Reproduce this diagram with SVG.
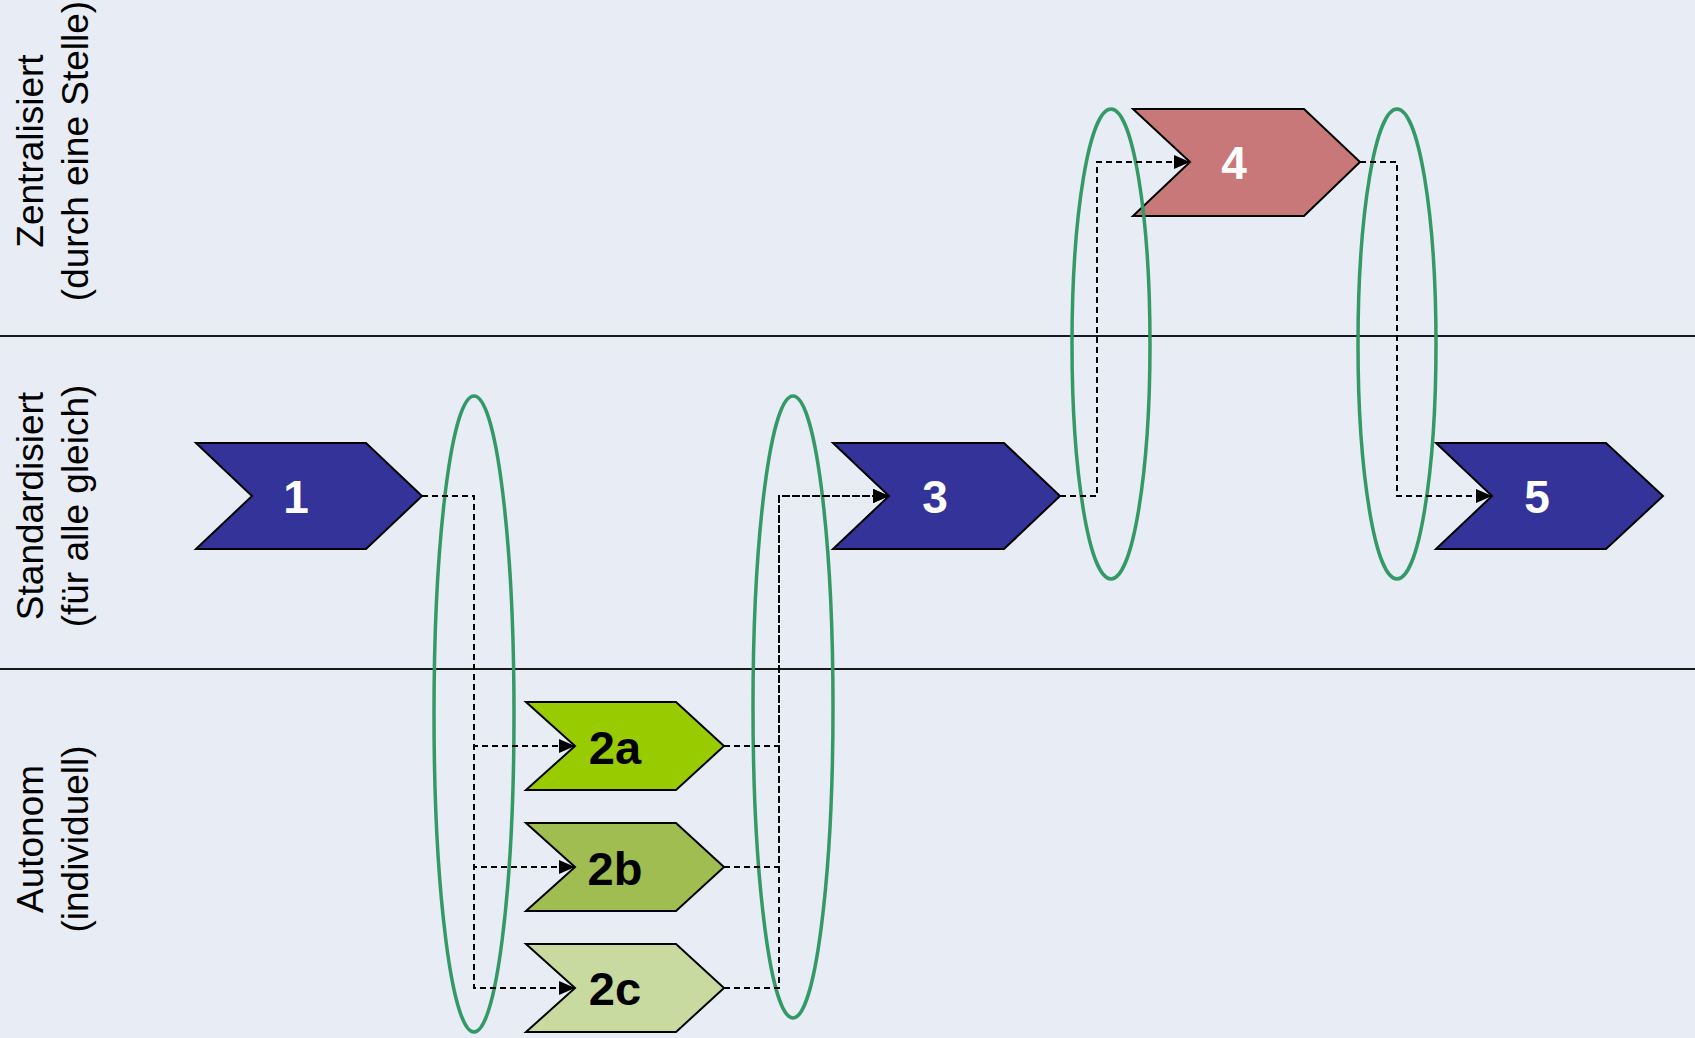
<svg xmlns="http://www.w3.org/2000/svg" width="1695" height="1038" viewBox="0 0 1695 1038">
  <style>
    .lane-label { font-family: "Liberation Sans", Arial, sans-serif; font-size: 37px; fill: #000; text-anchor: middle; }
    .lane-line { stroke: #1a1a1a; stroke-width: 2; }
    .chevron { stroke: #000; stroke-width: 2; stroke-linejoin: miter; }
    .std { fill: #333399; }
    .central { fill: #c87878; }
    .auto-a { fill: #99cc00; }
    .auto-b { fill: #9fbd50; }
    .auto-c { fill: #c8da9f; }
    .label-light { font-family: "Liberation Sans", Arial, sans-serif; font-weight: bold; font-size: 46px; fill: #fff; text-anchor: middle; }
    .label-dark { font-family: "Liberation Sans", Arial, sans-serif; font-weight: bold; font-size: 47px; fill: #000; text-anchor: middle; }
    .group-ring { fill: none; stroke: #339966; stroke-width: 3.5; }
    .flow { fill: none; stroke: #000; stroke-width: 2; stroke-dasharray: 6 4; }
  </style>
  <defs>
    <marker id="arrow" markerUnits="userSpaceOnUse" markerWidth="16" markerHeight="14" viewBox="0 0 16 14" refX="16" refY="7" orient="auto">
      <path d="M0,0 L16,7 L0,14 Z" fill="#000"/>
    </marker>
  </defs>

  <!-- background -->
  <rect x="0" y="0" width="1695" height="1038" fill="#e8ecf4"/>

  <!-- swim lanes -->
  <g id="lanes">
    <line class="lane-line" x1="0" y1="336" x2="1695" y2="336"/>
    <line class="lane-line" x1="0" y1="669" x2="1695" y2="669"/>
    <text class="lane-label" transform="translate(43,151) rotate(-90)">Zentralisiert</text>
    <text class="lane-label" transform="translate(88,151) rotate(-90)">(durch eine Stelle)</text>
    <text class="lane-label" transform="translate(43,506) rotate(-90)">Standardisiert</text>
    <text class="lane-label" transform="translate(88,506) rotate(-90)">(für alle gleich)</text>
    <text class="lane-label" transform="translate(43,839) rotate(-90)">Autonom</text>
    <text class="lane-label" transform="translate(88,839) rotate(-90)">(individuell)</text>
  </g>

  <!-- process steps -->
  <g id="step-1">
    <path class="chevron std" d="M196,443 L366,443 L422,496 L366,549 L196,549 L252,496 Z"/>
    <text class="label-light" x="296" y="513">1</text>
  </g>
  <g id="step-2a">
    <path class="chevron auto-a" d="M526,702 L676,702 L724,746 L676,790 L526,790 L575,746 Z"/>
    <text class="label-dark" x="615" y="764">2a</text>
  </g>
  <g id="step-2b">
    <path class="chevron auto-b" d="M526,823 L676,823 L724,867 L676,911 L526,911 L575,867 Z"/>
    <text class="label-dark" x="615" y="885">2b</text>
  </g>
  <g id="step-2c">
    <path class="chevron auto-c" d="M526,944 L676,944 L724,988 L676,1032 L526,1032 L575,988 Z"/>
    <text class="label-dark" x="615" y="1005">2c</text>
  </g>
  <g id="step-3">
    <path class="chevron std" d="M833,443 L1004,443 L1060,496 L1004,549 L833,549 L889,496 Z"/>
    <text class="label-light" x="935" y="513">3</text>
  </g>
  <g id="step-4">
    <path class="chevron central" d="M1133,109 L1304,109 L1360,162 L1304,216 L1133,216 L1190,162 Z"/>
    <text class="label-light" x="1234" y="179">4</text>
  </g>
  <g id="step-5">
    <path class="chevron std" d="M1436,443 L1606,443 L1663,496 L1606,549 L1436,549 L1492,496 Z"/>
    <text class="label-light" x="1537" y="513">5</text>
  </g>

  <!-- transition rings -->
  <g id="rings">
    <ellipse class="group-ring" cx="474" cy="714" rx="40" ry="318"/>
    <ellipse class="group-ring" cx="793" cy="707" rx="40" ry="311"/>
    <ellipse class="group-ring" cx="1111" cy="344" rx="39" ry="235"/>
    <ellipse class="group-ring" cx="1397" cy="344" rx="39" ry="235"/>
  </g>

  <!-- connectors -->
  <g id="connectors">
    <path class="flow" d="M422,496 H474 V746 H575" marker-end="url(#arrow)"/>
    <path class="flow" d="M422,496 H474 V867 H575" marker-end="url(#arrow)"/>
    <path class="flow" d="M422,496 H474 V988 H575" marker-end="url(#arrow)"/>
    <path class="flow" d="M724,746 H779 V496 H889" marker-end="url(#arrow)"/>
    <path class="flow" d="M724,867 H779 V496 H889" marker-end="url(#arrow)"/>
    <path class="flow" d="M724,988 H779 V496 H889" marker-end="url(#arrow)"/>
    <path class="flow" d="M1060,496 H1097 V162 H1190" marker-end="url(#arrow)"/>
    <path class="flow" d="M1360,162 H1397 V496 H1492" marker-end="url(#arrow)"/>
  </g>
</svg>
